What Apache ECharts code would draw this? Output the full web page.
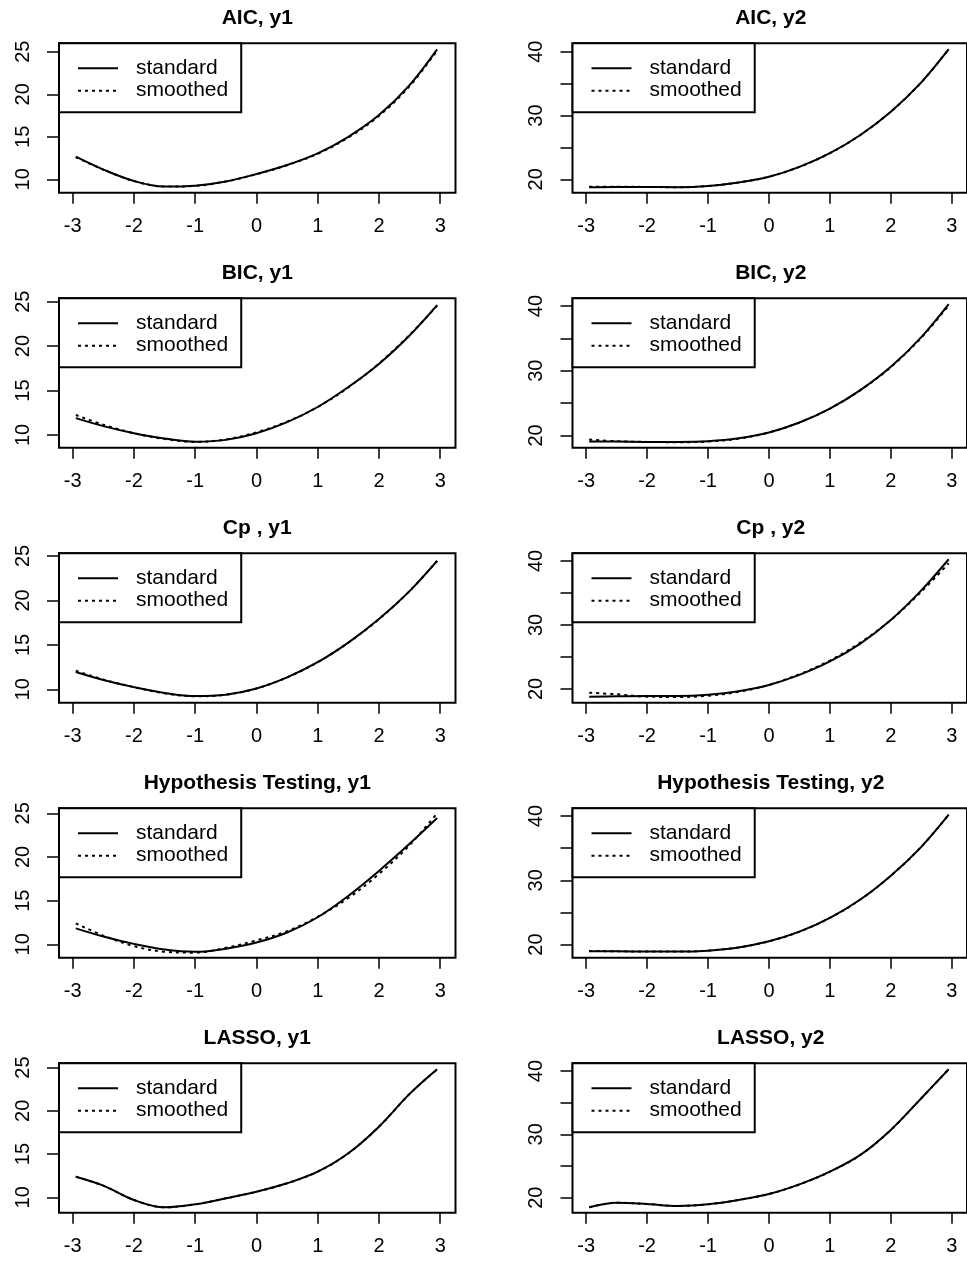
<!DOCTYPE html>
<html><head><meta charset="utf-8">
<script src="https://cdn.jsdelivr.net/npm/echarts@6/dist/echarts.min.js"></script>
<style>html,body{margin:0;padding:0;background:#fff}#c{width:967px;height:1261px}</style>
</head><body><div id="c"></div>
<script>
// x positions of the sampled curve points
const xVals = [-2.95, -2.5, -2, -1.5, -1, -0.5, 0, 0.5, 1, 1.5, 2, 2.5, 2.95];

// panel titles (row-major: left y1, right y2)
const titles = ['AIC, y1', 'AIC, y2', 'BIC, y1', 'BIC, y2', 'Cp , y1', 'Cp , y2',
  'Hypothesis Testing, y1', 'Hypothesis Testing, y2', 'LASSO, y1', 'LASSO, y2'];

// values
const aicY1Std = [12.66, 11.15, 9.8, 9.15, 9.25, 9.75, 10.62, 11.68, 13.05, 15.0, 17.55, 21.08, 25.28];
const aicY1Smo = [12.6, 11.15, 9.8, 9.15, 9.23, 9.75, 10.6, 11.66, 13.0, 14.92, 17.45, 20.95, 25.15];
const aicY2Std = [18.75, 18.8, 18.8, 18.75, 18.95, 19.5, 20.4, 21.95, 24.1, 26.95, 30.6, 35.2, 40.4];
const aicY2Smo = [18.85, 18.85, 18.8, 18.75, 18.95, 19.5, 20.4, 21.95, 24.1, 26.95, 30.6, 35.2, 40.4];
const bicY1Std = [11.9, 11.0, 10.2, 9.6, 9.25, 9.45, 10.2, 11.45, 13.15, 15.4, 18.0, 21.2, 24.62];
const bicY1Smo = [12.25, 11.15, 10.2, 9.55, 9.22, 9.5, 10.3, 11.5, 13.15, 15.35, 18.05, 21.25, 24.55];
const bicY2Std = [19.05, 19.05, 19.0, 19.0, 19.1, 19.55, 20.45, 22.0, 24.15, 27.0, 30.6, 35.2, 40.3];
const bicY2Smo = [19.35, 19.1, 19.0, 18.95, 19.05, 19.5, 20.45, 22.0, 24.15, 27.0, 30.55, 35.1, 40.1];
const cpY1Std = [11.95, 11.05, 10.25, 9.6, 9.25, 9.4, 10.1, 11.35, 13.05, 15.25, 17.9, 21.05, 24.45];
const cpY1Smo = [12.1, 11.1, 10.25, 9.55, 9.22, 9.4, 10.1, 11.35, 13.05, 15.25, 17.9, 21.05, 24.45];
const cpY2Std = [18.8, 18.85, 18.9, 18.9, 19.1, 19.65, 20.63, 22.2, 24.3, 27.1, 30.78, 35.4, 40.27];
const cpY2Smo = [19.42, 19.17, 18.8, 18.75, 18.95, 19.55, 20.63, 22.3, 24.45, 27.25, 30.78, 35.2, 39.64];
const hypY1Std = [11.83, 10.9, 10.05, 9.4, 9.15, 9.5, 10.2, 11.35, 13.1, 15.55, 18.4, 21.5, 24.45];
const hypY1Smo = [12.4, 11.0, 9.8, 9.15, 9.05, 9.6, 10.45, 11.5, 13.15, 15.3, 18.05, 21.35, 25.0];
const hypY2Std = [18.95, 18.95, 18.9, 18.9, 19.05, 19.55, 20.5, 22.0, 24.15, 27.0, 30.7, 35.2, 40.2];
const hypY2Smo = [19.0, 18.95, 18.9, 18.9, 19.05, 19.55, 20.5, 22.0, 24.15, 27.0, 30.7, 35.2, 40.2];
const lassoY1Std = [12.38, 11.35, 9.69, 8.84, 9.19, 9.88, 10.65, 11.62, 12.96, 15.09, 18.17, 21.96, 24.81];
const lassoY1Smo = [12.38, 11.35, 9.69, 8.84, 9.19, 9.88, 10.65, 11.62, 12.96, 15.09, 18.17, 21.96, 24.81];
const lassoY2Std = [18.48, 19.21, 19.0, 18.69, 18.96, 19.64, 20.58, 22.1, 24.1, 26.75, 30.7, 35.7, 40.28];
const lassoY2Smo = [18.48, 19.21, 19.0, 18.69, 18.96, 19.64, 20.58, 22.1, 24.1, 26.75, 30.7, 35.7, 40.28];

const standardData = [aicY1Std, aicY2Std, bicY1Std, bicY2Std, cpY1Std, cpY2Std, hypY1Std, hypY2Std, lassoY1Std, lassoY2Std];
const smoothedData = [aicY1Smo, aicY2Smo, bicY1Smo, bicY2Smo, cpY1Smo, cpY2Smo, hypY1Smo, hypY2Smo, lassoY1Smo, lassoY2Smo];

// axis ranges per panel
const yMin = [8.43, 17.9, 8.57, 18.1, 8.5, 17.86, 8.47, 17.95, 8.22, 17.63];
const yMax = [25.99, 41.32, 25.38, 41.2, 25.3, 41.2, 25.57, 41.2, 25.5, 41.22];
const xMin = -3.224, xMax = 3.25;

// tick values / labels
const xTicks = [-3, -2, -1, 0, 1, 2, 3];
const yTicksY1 = [10, 15, 20, 25];
const yTicksY2 = [20, 25, 30, 35, 40];
const yLabelsY2 = [20, 30, 40];
const legendNames = ['standard', 'smoothed'];

const FONT = '"Liberation Sans", Arial, sans-serif';
const chart = echarts.init(document.getElementById('c'), null, {renderer: 'canvas'});
const grid = [], xAxis = [], yAxis = [], series = [], title = [], legend = [];
const W = 396.5, H = 149.4;
for (let i = 0; i < 10; i++) {
  const row = Math.floor(i / 2), col = i % 2;
  const left = col === 0 ? 59 : 572.5;
  const top = 43.3 + row * 255;
  grid.push({left: left, top: top, width: W, height: H, show: true, borderColor: '#000', borderWidth: 2,
    backgroundColor: 'transparent', containLabel: false});
  xAxis.push({type: 'value', gridIndex: i, min: xMin, max: xMax,
    axisLine: {show: false, onZero: false}, splitLine: {show: false},
    axisTick: {show: true, length: 11, lineStyle: {color: '#000', width: 1.5}, customValues: xTicks},
    axisLabel: {fontSize: 20, color: '#000', fontFamily: FONT, margin: 24, customValues: xTicks,
      formatter: function (v) { return String(v); }}});
  const tv = col === 0 ? yTicksY1 : yTicksY2;
  const lv = col === 0 ? yTicksY1 : yLabelsY2;
  yAxis.push({type: 'value', gridIndex: i, min: yMin[i], max: yMax[i],
    axisLine: {show: false, onZero: false}, splitLine: {show: false},
    axisTick: {show: true, length: 12, lineStyle: {color: '#000', width: 1.5}, customValues: tv},
    axisLabel: {fontSize: 20, color: '#000', fontFamily: FONT, margin: 26, rotate: 90, customValues: lv,
      formatter: function (v) { return String(v); }}});
  title.push({text: titles[i], left: left + W / 2, top: 8 + row * 255, textAlign: 'center', padding: 0,
    textStyle: {fontSize: 21, fontWeight: 'bold', color: '#000', fontFamily: FONT}});
  legend.push({left: left, top: top, orient: 'vertical', padding: [14.5, 13, 11, 18],
    itemWidth: 40, itemHeight: 14, itemGap: 1.4, selectedMode: false,
    borderColor: '#000', borderWidth: 2, borderRadius: 0, backgroundColor: '#fff',
    itemStyle: {color: 'rgba(0,0,0,0)', borderColor: 'rgba(0,0,0,0)', borderWidth: 0},
    textStyle: {fontSize: 21, lineHeight: 21, color: '#000', fontFamily: FONT, padding: [0, 0, 0, 13]},
    data: legendNames});
  series.push({type: 'line', name: legendNames[0], xAxisIndex: i, yAxisIndex: i,
    data: xVals.map(function (x, k) { return [x, standardData[i][k]]; }),
    symbol: 'none', showSymbol: false, smooth: 0.35, silent: true, z: 2,
    lineStyle: {color: '#000', width: 2, type: 'solid'}, itemStyle: {color: '#000'}});
  series.push({type: 'line', name: legendNames[1], xAxisIndex: i, yAxisIndex: i,
    data: xVals.map(function (x, k) { return [x, smoothedData[i][k]]; }),
    symbol: 'none', showSymbol: false, smooth: 0.35, silent: true, z: 3,
    lineStyle: {color: '#000', width: 2, type: [3, 4]}, itemStyle: {color: '#000'}});
}
chart.setOption({animation: false, backgroundColor: '#fff', grid: grid, xAxis: xAxis, yAxis: yAxis,
  series: series, title: title, legend: legend});
</script></body></html>
